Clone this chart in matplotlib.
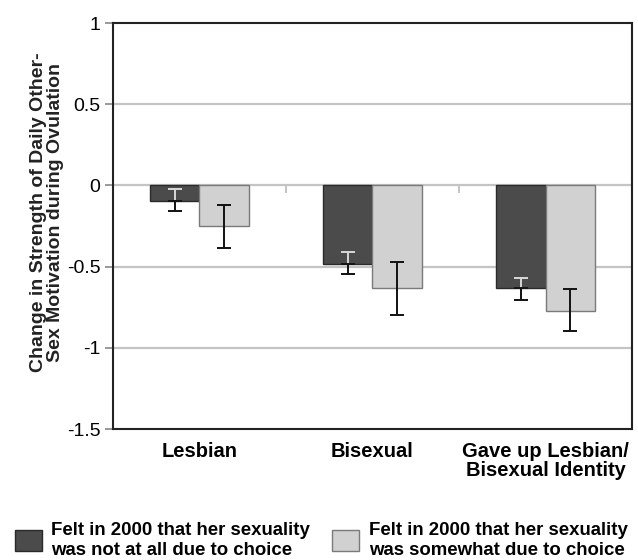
import numpy as np
import matplotlib
matplotlib.use("Agg")
import matplotlib.pyplot as plt
from matplotlib.patches import Patch

plt.rcParams["font.family"] = ["Liberation Sans", "DejaVu Sans"]

# data
groups = ["Lesbian", "Bisexual", "Gave up Lesbian/\nBisexual Identity"]
not_choice = [-0.099, -0.481, -0.630]
not_choice_lo = [0.059, 0.064, 0.074]
not_choice_hi = [0.077, 0.072, 0.062]
some_choice = [-0.247, -0.630, -0.773]
some_choice_lo = [0.136, 0.166, 0.124]
some_choice_hi = [0.126, 0.159, 0.137]
labels = ["Felt in 2000 that her sexuality\nwas not at all due to choice",
          "Felt in 2000 that her sexuality\nwas somewhat due to choice"]

dark = "#4b4b4b"
light = "#d0d1d0"

fig = plt.figure(figsize=(6.38, 5.6), dpi=100)
ax = fig.add_axes([0.1771, 0.2339, 0.8135, 0.725])

x = np.arange(len(groups))
w = 0.288

for v in [0.5, 0, -0.5, -1]:
    ax.axhline(v, color="#c4c4c4", lw=1.6, zorder=0)

ax.bar(x - w / 2, not_choice, w, color=dark, edgecolor="#2a2a2a", lw=1.0, zorder=2)
ax.bar(x + w / 2, some_choice, w, color=light, edgecolor="#7a7a7a", lw=1.0, zorder=2)

# dark bars: part of the whisker inside the bar is drawn light
nc = np.array(not_choice)
ax.errorbar(x - w / 2, nc, yerr=[np.zeros(3), not_choice_hi], fmt="none",
            ecolor="#d8d8d8", elinewidth=1.4, capsize=5, capthick=1.4, zorder=3)
ax.errorbar(x - w / 2, nc, yerr=[not_choice_lo, np.zeros(3)], fmt="none",
            ecolor="#111111", elinewidth=1.4, capsize=5, capthick=1.4, zorder=3)
ax.errorbar(x + w / 2, some_choice, yerr=[some_choice_lo, some_choice_hi], fmt="none",
            ecolor="#111111", elinewidth=1.4, capsize=5, capthick=1.4, zorder=3)

# small separators between categories on the zero line
for b in [0.5, 1.5]:
    ax.plot([b, b], [0, -0.04], color="#c4c4c4", lw=1.4, zorder=1)

ax.set_xlim(-0.5, 2.5)
ax.set_ylim(-1.5, 1)
ax.set_yticks([1, 0.5, 0, -0.5, -1, -1.5])
ax.set_yticklabels(["1", "0.5", "0", "-0.5", "-1", "-1.5"], fontsize=14)
ax.tick_params(axis="y", length=6, width=1.4, color="#999999", pad=3)
ax.set_xticks(x)
ax.set_xticklabels(groups, fontsize=14.5, fontweight="bold", linespacing=1.05)
ax.tick_params(axis="x", length=0, pad=9)
for s in ax.spines.values():
    s.set_color("#222222")
    s.set_linewidth(1.5)

fig.text(47 / 638, 1 - 212 / 560,
         "Change in Strength of Daily Other-\nSex Motivation during Ovulation",
         rotation=90, ha="center", va="center", fontsize=14, fontweight="bold",
         multialignment="center", linespacing=1.0, color="#222222")

handles = [Patch(facecolor=dark, edgecolor="#2a2a2a"),
           Patch(facecolor=light, edgecolor="#7a7a7a")]
fig.legend(handles, labels, loc="lower left", bbox_to_anchor=(0.006, -0.018),
           ncol=2, frameon=False, handlelength=1.45, handleheight=1.35,
           handletextpad=0.5, columnspacing=1.2, borderaxespad=0.2,
           prop={"size": 13.4, "weight": "bold"})

fig.savefig("out.png", dpi=100)
